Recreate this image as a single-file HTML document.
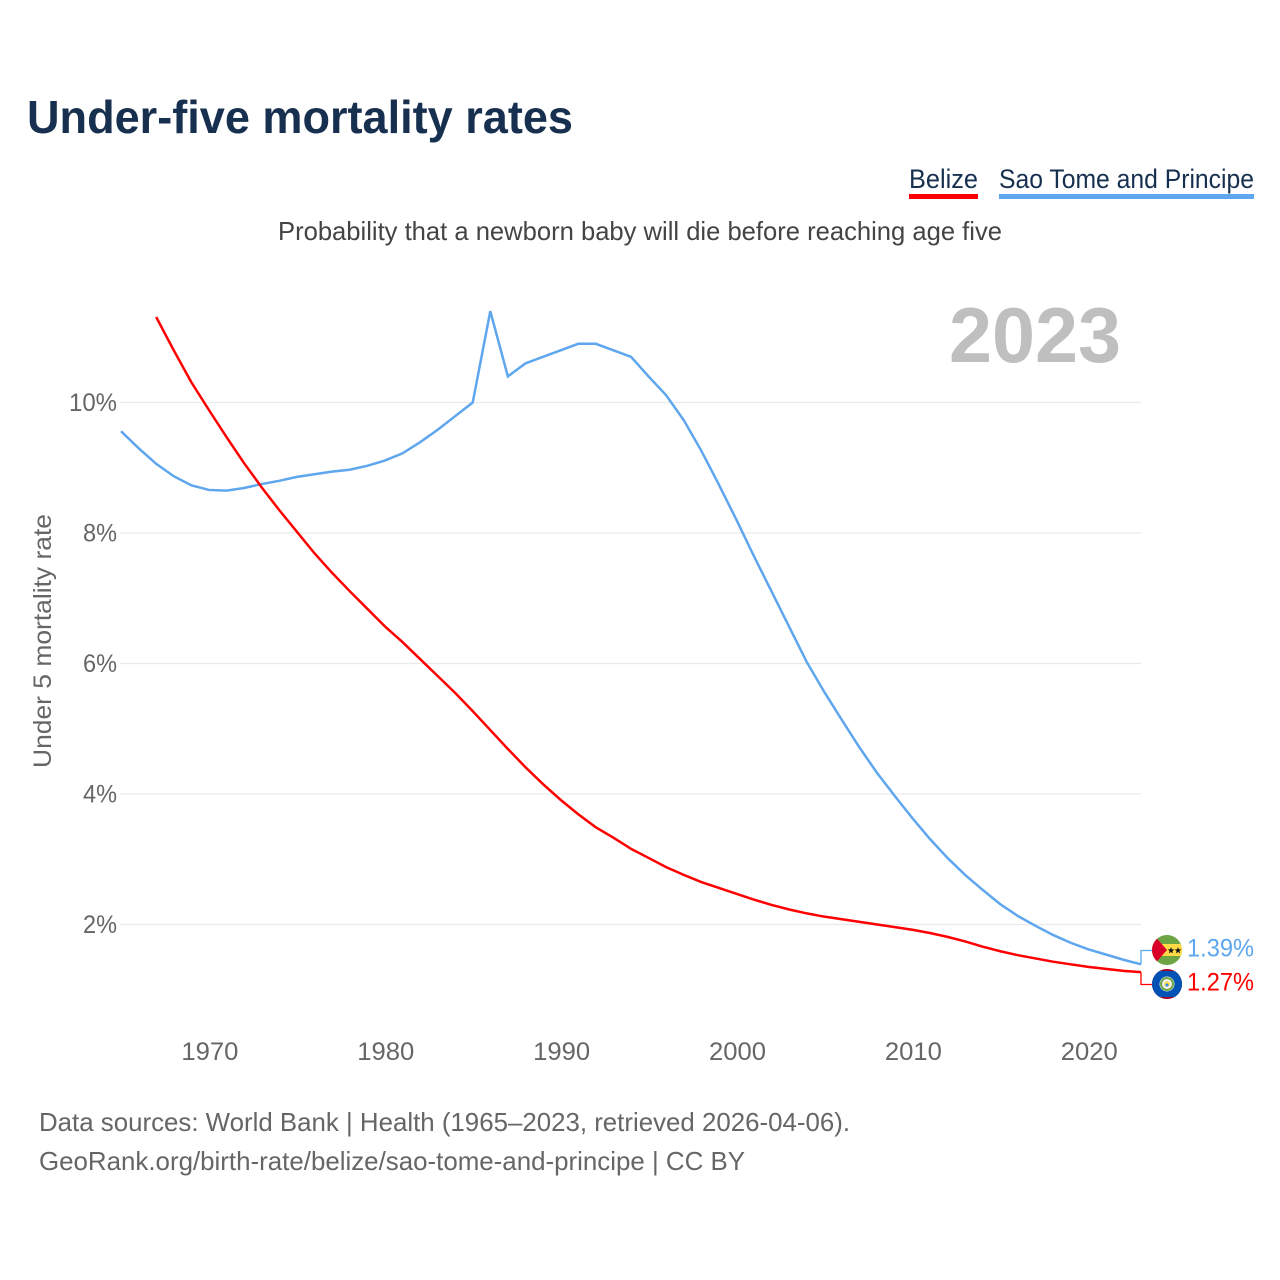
<!DOCTYPE html>
<html lang="en">
<head>
<meta charset="utf-8">
<title>Under-five mortality rates</title>
<style>
html,body{margin:0;padding:0;background:#fff;width:1280px;height:1280px;overflow:hidden}
svg{display:block}
text{font-family:"Liberation Sans",sans-serif}
</style>
</head>
<body>
<svg id="chart" xmlns="http://www.w3.org/2000/svg" width="1280" height="1280" viewBox="0 0 1280 1280">
  <defs>
    <clipPath id="flag-clip-st"><circle cx="1167" cy="950" r="15"/></clipPath>
    <clipPath id="flag-clip-bz"><circle cx="1167" cy="984" r="15"/></clipPath>
  </defs>
  <text x="27" y="133" font-size="46" font-weight="700" fill="#17304f" textLength="546" lengthAdjust="spacingAndGlyphs">Under-five mortality rates</text>
  <g>
    <g>
      <text x="909" y="188" font-size="27" fill="#17304f" textLength="69" lengthAdjust="spacingAndGlyphs">Belize</text>
      <rect x="909" y="194" width="69" height="5" fill="#ff0000"/>
    </g>
    <g>
      <text x="999" y="188" font-size="27" fill="#17304f" textLength="255" lengthAdjust="spacingAndGlyphs">Sao Tome and Principe</text>
      <rect x="999" y="194" width="255" height="5" fill="#5ea6ee"/>
    </g>
  </g>
  <text x="278" y="240" font-size="26" fill="#444" textLength="724" lengthAdjust="spacingAndGlyphs">Probability that a newborn baby will die before reaching age five</text>
  <text x="949" y="362" font-size="78" font-weight="700" fill="#bfbfbf" textLength="172" lengthAdjust="spacingAndGlyphs">2023</text>
  <text transform="translate(51,768) rotate(-90)" font-size="25" fill="#666" textLength="254" lengthAdjust="spacingAndGlyphs">Under 5 mortality rate</text>
  <g id="grid"></g>
  <g id="yticks"></g>
  <g id="xticks"></g>
  <g id="series"></g>
  <g clip-path="url(#flag-clip-st)">
    <rect x="1150" y="933" width="34" height="34" fill="#6da544"/>
    <rect x="1150" y="944" width="34" height="12" fill="#ffda44"/>
    <polygon points="1150,933 1152,933 1167,950 1152,967 1150,967" fill="#d80027"/>
    <polygon points="1171,947 1171.9,949.4 1174.4,949.4 1172.4,951 1173.1,953.4 1171,952 1168.9,953.4 1169.6,951 1167.6,949.4 1170.1,949.4" fill="#111"/>
    <polygon points="1178,947 1178.9,949.4 1181.4,949.4 1179.4,951 1180.1,953.4 1178,952 1175.9,953.4 1176.6,951 1174.6,949.4 1177.1,949.4" fill="#111"/>
  </g>
  <g clip-path="url(#flag-clip-bz)">
    <rect x="1150" y="967" width="34" height="34" fill="#a2001d"/>
    <rect x="1150" y="971" width="34" height="26" fill="#0052b4"/>
    <circle cx="1167" cy="984" r="7.5" fill="#f0f0f0"/>
    <circle cx="1167" cy="984" r="6" fill="none" stroke="#6da544" stroke-width="2"/>
    <circle cx="1167" cy="984" r="2.8" fill="#ffda44"/>
    <circle cx="1167" cy="985" r="1.5" fill="#338af3"/>
  </g>
  <text x="39" y="1131" font-size="26" fill="#666" textLength="811" lengthAdjust="spacingAndGlyphs">Data sources: World Bank | Health (1965–2023, retrieved 2026-04-06).</text>
  <text x="39" y="1170" font-size="26" fill="#666" textLength="706" lengthAdjust="spacingAndGlyphs">GeoRank.org/birth-rate/belize/sao-tome-and-principe | CC BY</text>
</svg>
<script>
const blueYears = [1965,1966,1967,1968,1969,1970,1971,1972,1973,1974,1975,1976,1977,1978,1979,1980,1981,1982,1983,1984,1985,1986,1987,1988,1989,1990,1991,1992,1993,1994,1995,1996,1997,1998,1999,2000,2001,2002,2003,2004,2005,2006,2007,2008,2009,2010,2011,2012,2013,2014,2015,2016,2017,2018,2019,2020,2021,2022,2023];
const saoTomeValues = [9.56,9.3,9.06,8.87,8.73,8.66,8.65,8.69,8.75,8.8,8.86,8.9,8.94,8.97,9.03,9.11,9.22,9.39,9.58,9.79,10.0,11.4,10.4,10.6,10.7,10.8,10.9,10.9,10.8,10.7,10.4,10.11,9.73,9.26,8.74,8.2,7.64,7.1,6.56,6.02,5.56,5.13,4.71,4.32,3.97,3.63,3.31,3.02,2.76,2.53,2.31,2.13,1.98,1.84,1.72,1.62,1.54,1.46,1.39];
const redYears = [1967,1968,1969,1970,1971,1972,1973,1974,1975,1976,1977,1978,1979,1980,1981,1982,1983,1984,1985,1986,1987,1988,1989,1990,1991,1992,1993,1994,1995,1996,1997,1998,1999,2000,2001,2002,2003,2004,2005,2006,2007,2008,2009,2010,2011,2012,2013,2014,2015,2016,2017,2018,2019,2020,2021,2022,2023];
const belizeValues = [11.31,10.8,10.31,9.885,9.47,9.07,8.7,8.35,8.02,7.69,7.39,7.11,6.84,6.57,6.33,6.07,5.81,5.55,5.27,4.98,4.69,4.41,4.15,3.91,3.69,3.49,3.33,3.16,3.02,2.88,2.76,2.65,2.56,2.47,2.38,2.3,2.23,2.17,2.12,2.08,2.04,2.0,1.96,1.92,1.87,1.81,1.74,1.66,1.59,1.53,1.48,1.43,1.39,1.35,1.32,1.29,1.27];
const yTickValues = [2,4,6,8,10];
const xTickYears = [1970,1980,1990,2000,2010,2020];

const NS = 'http://www.w3.org/2000/svg';
function xScale(year){ return 121 + (year - 1965) * 17.586; }
function yScale(v){ return 924.5 - (v - 2) * 65.25; }
function make(tag, parent){
  const el = document.createElementNS(NS, tag);
  parent.appendChild(el);
  return el;
}
function pathFor(years, values){
  return years.map(function(yr, i){
    return (i ? 'L' : 'M') + xScale(yr).toFixed(2) + ' ' + yScale(values[i]).toFixed(2);
  }).join(' ');
}

const grid = document.getElementById('grid');
const yticks = document.getElementById('yticks');
yTickValues.forEach(function(v){
  const line = make('line', grid);
  
  
  line.setAttribute('x1', 120);
  line.setAttribute('x2', xScale(2023));
  line.setAttribute('y1', yScale(v));
  line.setAttribute('y2', yScale(v));
  line.setAttribute('stroke', '#e9e9e9');
  line.setAttribute('stroke-width', 1.3);
  const label = make('text', yticks);
  
  
  const str = v + '%';
  const w = (str.length - 1) * 14 + 20;
  label.setAttribute('x', 117 - w);
  label.setAttribute('y', yScale(v) + 8.5);
  label.setAttribute('font-size', 25);
  label.setAttribute('fill', '#666');
  label.setAttribute('textLength', w);
  label.setAttribute('lengthAdjust', 'spacingAndGlyphs');
  label.textContent = str;
});

const xticks = document.getElementById('xticks');
xTickYears.forEach(function(yr){
  const label = make('text', xticks);
  
  
  label.setAttribute('x', xScale(yr) - 27.5);
  label.setAttribute('y', 1060);
  label.setAttribute('font-size', 25);
  label.setAttribute('fill', '#666');
  label.setAttribute('textLength', 57);
  label.setAttribute('lengthAdjust', 'spacingAndGlyphs');
  label.textContent = yr;
});

const series = document.getElementById('series');

const saoLine = make('path', series);


saoLine.setAttribute('d', pathFor(blueYears, saoTomeValues));
saoLine.setAttribute('fill', 'none');
saoLine.setAttribute('stroke', '#5ea6ee');
saoLine.setAttribute('stroke-width', 2.5);

const belizeLine = make('path', series);


belizeLine.setAttribute('d', pathFor(redYears, belizeValues));
belizeLine.setAttribute('fill', 'none');
belizeLine.setAttribute('stroke', '#ff0000');
belizeLine.setAttribute('stroke-width', 2.5);

const saoEnd = saoTomeValues[saoTomeValues.length - 1];
const belizeEnd = belizeValues[belizeValues.length - 1];
const endX = xScale(2023);

const saoConn = make('path', series);


saoConn.setAttribute('d', 'M' + endX + ' ' + yScale(saoEnd) + ' V950.5 H1153');
saoConn.setAttribute('fill', 'none');
saoConn.setAttribute('stroke', '#5ea6ee');
saoConn.setAttribute('stroke-width', 1.3);

const belizeConn = make('path', series);


belizeConn.setAttribute('d', 'M' + endX + ' ' + yScale(belizeEnd) + ' V984.5 H1153');
belizeConn.setAttribute('fill', 'none');
belizeConn.setAttribute('stroke', '#ff0000');
belizeConn.setAttribute('stroke-width', 1.3);

const saoLabel = make('text', series);


saoLabel.setAttribute('x', 1187);
saoLabel.setAttribute('y', 956.5);
saoLabel.setAttribute('font-size', 25);
saoLabel.setAttribute('fill', '#5ea6ee');
saoLabel.setAttribute('textLength', 67);
saoLabel.setAttribute('lengthAdjust', 'spacingAndGlyphs');
saoLabel.textContent = saoEnd.toFixed(2) + '%';

const belizeLabel = make('text', series);


belizeLabel.setAttribute('x', 1187);
belizeLabel.setAttribute('y', 990.5);
belizeLabel.setAttribute('font-size', 25);
belizeLabel.setAttribute('fill', '#ff0000');
belizeLabel.setAttribute('textLength', 67);
belizeLabel.setAttribute('lengthAdjust', 'spacingAndGlyphs');
belizeLabel.textContent = belizeEnd.toFixed(2) + '%';
</script>
</body>
</html>
